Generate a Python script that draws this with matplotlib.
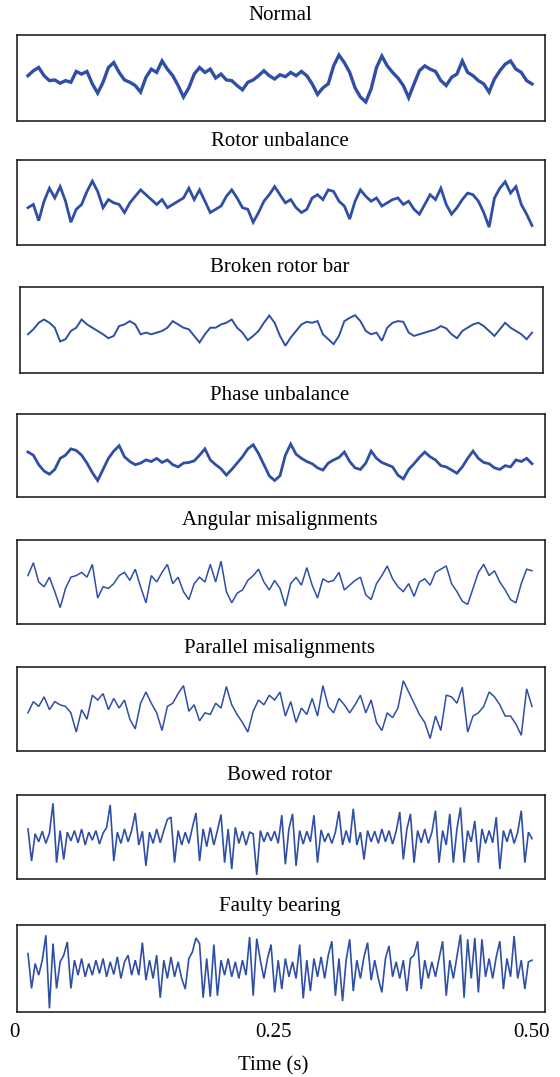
import numpy as np
import matplotlib.pyplot as plt

plt.rcParams['font.family'] = ['Liberation Serif', 'DejaVu Serif']

# Titles of the eight panels
titles = ['Normal', 'Rotor unbalance', 'Broken rotor bar', 'Phase unbalance',
          'Angular misalignments', 'Parallel misalignments', 'Bowed rotor',
          'Faulty bearing']

# Signal values (arbitrary amplitude units)
normal = [7, 22, 32, 7, -8, -6, -16, -8, -13, 20, 12, 20, -18, -46, -13, 32, 47, 17, -6, -13,
          -23, -43, 2, 27, 17, 52, 27, 7, -23, -58, -30, 12, 32, 17, 27, 0, 12, -6, -8, -23,
          -36, -13, -6, 7, 22, 7, -3, 10, 4, 17, 7, 20, 7, -18, -50, -30, -18, 37, 70, 47,
          17, -30, -58, -73, -33, 32, 67, 37, 17, 0, -23, -60, -18, 22, 37, 27, 20, -8, -23, 2,
          12, 52, 17, 7, -8, -18, -43, -3, 22, 42, 52, 27, 17, -8, -18]
rotor_unbalance = [-16, -6, -56, 4, 44, 14, 49, 4, -61, -21, -6, 34, 66, 34, -16, 9, -1, -6, -31, -1,
                   19, 39, 24, 9, -6, 9, -16, -6, 4, 14, 44, 9, 39, 4, -31, -21, -11, 19, 39, 14,
                   -16, -21, -61, -31, 4, 24, 49, 24, -1, 9, -16, -31, -21, 14, 24, 9, 39, 34, 4, -11,
                   -51, 4, 39, 19, 4, 14, -11, -1, 9, 14, -6, 4, -21, -36, -6, 24, 9, 44, -6, -36,
                   -16, 9, 29, 24, 4, -31, -76, 14, 44, 64, 29, 49, -6, -36, -71]
broken_rotor_bar = [-13, 2, 22, 32, 22, 7, -35, -28, -3, 7, 32, 17, 7, -3, -13, -25, -18, 12, 17, 27,
                    17, -13, -8, -13, -8, -3, 7, 27, 17, 7, 2, -18, -38, -13, 7, 7, 17, 22, 32, 7,
                    -8, -31, -18, -3, 22, 44, 22, -18, -48, -23, -3, 17, 25, 22, 27, -13, -28, -43, -18, 27,
                    37, 45, 27, -3, -13, -8, -33, 7, 22, 27, 25, -8, -18, -13, -8, -3, 2, 12, 5, -13,
                    -25, -3, 7, 17, 22, 12, -3, -18, 2, 22, 7, -3, -13, -28, -8]
phase_unbalance = [11, 1, -29, -49, -59, -44, -9, 1, 21, 16, 1, -24, -54, -79, -44, -9, 14, 31, -4, -19,
                   -29, -24, -14, -19, -9, -22, -14, -29, -36, -24, -22, -17, 1, 21, -14, -29, -42, -62, -44, -24,
                   -4, 21, 34, 6, -29, -64, -79, -64, 1, 36, 4, -9, -19, -26, -39, -46, -24, -14, -6, 11,
                   -19, -39, -44, -24, 14, -9, -22, -29, -36, -62, -74, -44, -26, -6, 11, -4, -14, -32, -36, -46,
                   -56, -36, -9, 14, -9, -22, -26, -39, -44, -32, -36, -14, -19, -9, -26]
angular = [20, 60, 0, -15, 15, -30, -80, -20, 15, 20, 30, 15, 55, -50, -15, -20, -5, 20, 30, 5,
           40, -15, -65, 20, 0, 30, 55, -5, 15, -30, -55, -5, 15, 0, 55, 0, 65, -30, -65, -35,
           -25, 5, 20, 40, 0, -25, 5, -20, -75, -5, 15, -10, 45, -10, -50, 10, 0, 5, 30, -25,
           -10, 5, 15, -40, -55, -5, 20, 50, 10, -15, -30, -5, -45, 0, 10, -10, 30, 40, 50, -5,
           -30, -60, -70, -20, 30, 55, 20, 35, 0, -25, -55, -65, -5, 40, 35]
parallel = [-12, 23, 8, 38, -2, 23, 13, 8, -12, -72, -2, -32, 43, 28, 48, -2, 33, 3, 28, -32,
            -62, 18, 53, 18, -12, -67, 8, 18, 48, 73, -7, 13, -37, -12, -17, 18, 3, 70, 13, -17,
            -42, -72, -7, 28, 13, 43, 28, 53, -22, 23, -42, 3, -17, 33, -22, 73, 8, -12, 33, 13,
            -12, 13, 43, -12, 28, -42, -67, -12, -27, 3, 88, 53, 18, -17, -42, -92, -22, -67, 43, 38,
            18, 68, -72, -22, -12, 8, 53, 38, 13, -22, -22, -47, -82, 63, 8]
bowed_rotor = [25, -75, 10, -15, 18, -20, 12, 105, -80, 20,
               -70, 15, -12, 20, -18, 25, -25, 15, -10, 20,
               -22, 12, 30, 100, -75, 15, -20, 25, -15, 20,
               75, -25, 18, -90, 15, -20, 25, -18, 20, 55,
               62, -80, 20, -25, 15, -20, 30, 75, -75, 25,
               -30, 30, -25, 20, 70, -80, 25, -100, 30, -20,
               18, -25, 15, 10, -118, 20, -15, 15, -12, 18,
               -20, 68, -85, 25, 72, -90, 20, -22, 18, -15,
               68, -80, 22, -15, 12, -20, 15, 80, -25, 20,
               -18, 88, -25, 15, -70, 20, -15, 18, -20, 25,
               -15, 20, -22, 18, 78, -70, 25, 72, -80, 20,
               -18, 25, -20, 15, 82, -80, 20, -25, 72, -80,
               25, 92, -80, 20, -15, 50, -80, 25, -20, 20,
               -18, 62, -100, 20, -15, 25, -20, 15, 82, -80,
               15, -5]
faulty_bearing = [45, -60, 15, -20, 25, 100, -120, 75, -60, 20,
                  40, 80, -60, 25, -20, 30, -25, 15, -20, 25,
                  -15, 30, -25, 20, -18, 35, -30, 20, 40, -20,
                  25, -20, 78, -35, 25, -30, 40, -88, 25, -30,
                  35, -25, 20, -30, -62, 30, 50, 92, 75, -88,
                  30, -85, 72, -82, 25, -20, 30, -25, 20, -30,
                  25, -20, 95, -82, 90, 25, -30, 30, 72, -72,
                  25, -62, 30, -25, 20, -30, 72, -90, 25, -68,
                  30, -25, 35, -30, 40, 82, -82, 30, -98, 25,
                  88, -68, 25, -30, 35, 78, -35, 25, -30, -72,
                  30, 68, -25, 20, -30, 25, -68, 30, 40, 82,
                  -62, 25, -30, 20, -25, 30, 82, -82, 25, -30,
                  35, 102, -88, 88, -30, 92, -72, 88, -25, 30,
                  -30, 35, 82, -62, 30, -25, 98, -30, 25, -62,
                  20, 25]
signals = [normal, rotor_unbalance, broken_rotor_bar, phase_unbalance,
           angular, parallel, bowed_rotor, faulty_bearing]

t_start, t_end = 0.0135, 0.5
tick_vals = [0, 0.25, 0.5]
tick_labels = ['0', '0.25', '0.50']

W, H = 560, 1077
fig = plt.figure(figsize=(W / 100, H / 100), dpi=100)

# pixel -> time mapping shared by all panels (0 at x=14 px, 0.5 at x=532 px)
x0_px, x1_px = 14, 532
def px_to_t(px):
    return (px - x0_px) / (x1_px - x0_px) * 0.5

# panel boxes in pixels: left, top, right, bottom
boxes = [(17, 35, 545, 121), (17, 160, 545, 245), (20, 287, 543, 373), (17, 414, 545, 497),
         (17, 540, 545, 624), (17, 667, 545, 751), (17, 795, 545, 879), (17, 925, 545, 1012)]
widths = [2.4, 2.0, 1.4, 2.0, 1.1, 1.1, 1.2, 1.2]
color = '#2f4fa6'

for title, sig, box, lw in zip(titles, signals, boxes, widths):
    l, tp, r, b = box
    ax = fig.add_axes([l / W, 1 - b / H, (r - l) / W, (b - tp) / H])
    t = np.linspace(t_start, t_end, len(sig))
    ax.plot(t, sig, color=color, lw=lw, solid_joinstyle='miter')
    ax.set_xlim(px_to_t(l), px_to_t(r))
    ax.set_ylim(-131, 131)
    ax.set_xticks([])
    ax.set_yticks([])
    for s in ax.spines.values():
        s.set_linewidth(1.2)
        s.set_color('#222222')
    fig.text(0.5, 1 - (tp - 19) / H, title, ha='center', va='center', fontsize=15)

# shared time axis
ax_t = fig.add_axes([x0_px / W, 1 - 1012 / H, (x1_px - x0_px) / W, 0.0001])
ax_t.set_xlim(0, 0.5)
ax_t.set_xticks(tick_vals)
ax_t.set_xticklabels(tick_labels, fontsize=15)
ax_t.tick_params(axis='x', length=0, pad=8)
ax_t.set_yticks([])
for s in ax_t.spines.values():
    s.set_visible(False)
ax_t.patch.set_visible(False)
ax_t.set_xlabel('Time (s)', fontsize=15, labelpad=10)

plt.savefig('out.png', dpi=100)
